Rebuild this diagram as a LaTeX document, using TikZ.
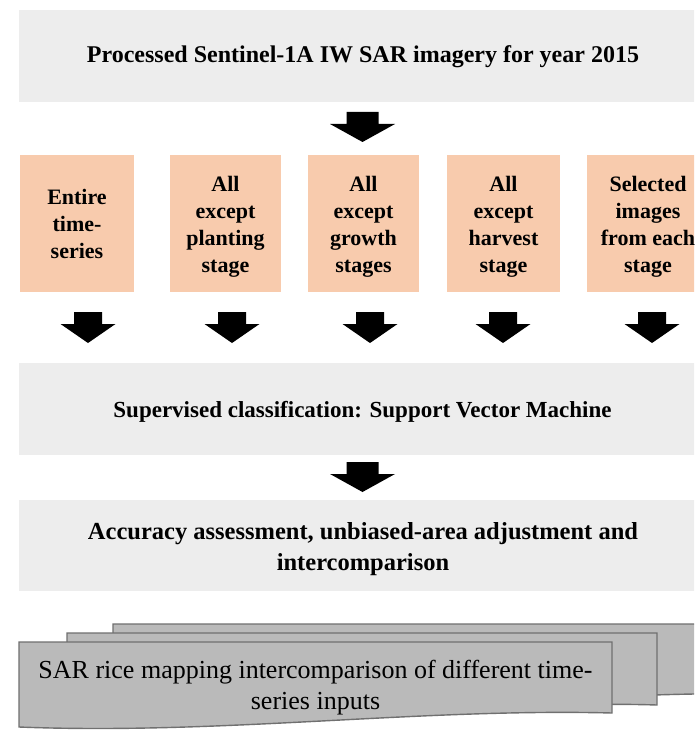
\documentclass[tikz,border=0pt]{standalone}
\usepackage{fontspec}
\setmainfont{Liberation Serif}
\definecolor{boxgray}{HTML}{EDEDED}
\definecolor{boxorange}{HTML}{F8CBAD}
\definecolor{docfill}{HTML}{BABABA}
\definecolor{docline}{HTML}{707070}
\tikzset{
  graybox/.style={fill=boxgray, draw=none},
  orangebox/.style={fill=boxorange, draw=none},
  boxtext/.style={font=\fontsize{24}{31}\selectfont\bfseries, align=center, inner sep=0pt},
  stagetext/.style={font=\fontsize{22}{27}\selectfont\bfseries, align=center, inner sep=0pt},
  doc/.style={fill=docfill, draw=docline, line width=1.4pt, line join=miter},
  bigarrow/.pic={\fill[black] (-16,0) -- (16,0) -- (16,12) -- (32.5,12) -- (0,30) -- (-32.5,12) -- (-16,12) -- cycle;},
  smallarrow/.pic={\fill[black] (-14,0) -- (14,0) -- (14,12) -- (27.5,12) -- (0,31) -- (-27.5,12) -- (-14,12) -- cycle;}
}
\begin{document}
\begin{tikzpicture}[x=1pt,y=-1pt]
\clip (0,0) rectangle (694,730);
\fill[white] (0,0) rectangle (694,730);
% top box
\fill[graybox] (19,10) rectangle (710,102);
\node[boxtext] (top) at (363,57) {Processed Sentinel-1A IW SAR imagery for year 2015};
\pic at (362.5,112) {bigarrow};
% stage boxes
\fill[orangebox] (20,155) rectangle (134,292);
\fill[orangebox] (170,155) rectangle (281,292);
\fill[orangebox] (308,155) rectangle (419,292);
\fill[orangebox] (447,155) rectangle (560,292);
\fill[orangebox] (587,155) rectangle (700,292);
\node[stagetext] (s1) at (77,224) {Entire\\time-\\series};
\node[stagetext] (s2) at (225.5,227) {All\\except\\planting\\stage};
\node[stagetext] (s3) at (363.5,227) {All\\except\\growth\\stages};
\node[stagetext] (s4) at (503.5,227) {All\\except\\harvest\\stage};
\node[stagetext] (s5) at (648,227) {Selected\\images\\from each\\stage};
\pic at (88,312) {smallarrow};
\pic at (232,312) {smallarrow};
\pic at (370,312) {smallarrow};
\pic at (503,312) {smallarrow};
\pic at (652,312) {smallarrow};
% classification
\fill[graybox] (19,363) rectangle (710,455);
\node[boxtext, font=\fontsize{23}{31}\selectfont\bfseries] (svm) at (362.5,412) {Supervised classification: Support Vector Machine};
\pic at (362.5,462) {bigarrow};
% accuracy
\fill[graybox] (19,500) rectangle (710,591);
\node[boxtext, font=\fontsize{24.5}{31}\selectfont\bfseries] (acc) at (363,549) {Accuracy assessment, unbiased-area adjustment and\\intercomparison};
% documents
\draw[doc] (113,624) -- (760,624) -- (760,694) .. controls (600,691) and (450,712) .. (113,710) -- cycle;
\draw[doc] (67,633) -- (657,633) -- (657,705) .. controls (500,700) and (300,725) .. (67,718) -- cycle;
\draw[doc] (19,642) -- (612,642) -- (612,713) .. controls (420,708) and (220,735) .. (19,727) -- cycle;
\node[font=\fontsize{26}{31}\selectfont, align=center, inner sep=0pt] (res) at (315.5,688) {SAR rice mapping intercomparison of different time-\\series inputs};
\end{tikzpicture}
\end{document}
